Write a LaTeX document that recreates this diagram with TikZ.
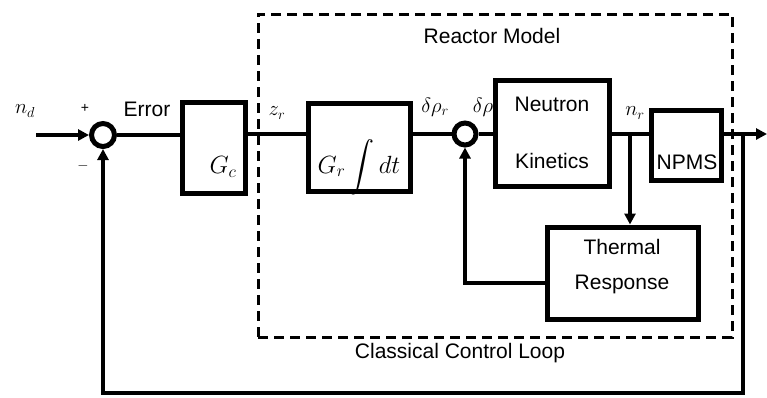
\documentclass[tikz,border=0pt]{standalone}
\usepackage{amsmath,amssymb}
\usepackage{fontspec}
\setmainfont{Liberation Sans}
\usepackage{tikz}
\usetikzlibrary{arrows.meta,positioning}
\tikzset{
  cbox/.style={draw=black, line width=5pt, align=center, inner sep=0pt, font=\fontsize{21}{26}\selectfont},
  csum/.style={draw=black, line width=5pt, circle, minimum size=23pt, inner sep=0pt},
  rmbox/.style={draw=black, line width=3pt, dash pattern=on 10pt off 6pt},
  carr/.style={-{Triangle[length=11pt,width=11pt]}, line width=4.6pt},
  cline/.style={line width=4.6pt},
  clab/.style={font=\fontsize{21}{26}\selectfont, inner sep=0pt},
  cmath/.style={font=\fontsize{25}{28}\selectfont, inner sep=0pt},
  csign/.style={font=\fontsize{14}{16}\selectfont, inner sep=0pt}
}

\begin{document}
\begin{tikzpicture}[x=1pt, y=-1pt]
\useasboundingbox (0,0) rectangle (767,397);
% reactor model frame
\node[rmbox, minimum width=474pt, minimum height=323pt] (rm) at (495,175.5) {};
\node[clab] (rml) at (492,36) {Reactor Model};
\node[clab] (ccl) at (460,353) {Classical Control Loop};
% blocks
\node[csum] (s1) at (103,135) {};
\node[cbox, minimum width=63pt, minimum height=91pt] (gc) at (213.5,147.5) {};
\node[cbox, minimum width=102pt, minimum height=88pt] (gr) at (359,147) {};
\node[csum, minimum size=22pt] (s2) at (465,134) {};
\node[cbox, minimum width=114pt, minimum height=106pt] (nk) at (552,133) {Neutron\\[31pt]Kinetics};
\node[cbox, minimum width=70pt, minimum height=70pt] (np) at (686,145) {};
\node[cbox, minimum width=151pt, minimum height=92pt] (tr) at (622.5,273) {};
\node[cmath] (gcl) at (223,167) {$G_c$};
\node[cmath] (grl) at (359,167) {$G_r\displaystyle\int dt$};
\node[clab] (npl) at (687,162) {NPMS};
\node[clab, align=center] (trl) at (622,267) {Thermal\\[9pt]Response};
% signal labels
\node[clab] (nd) at (25,111) {$n_d$};
\node[csign] (pl) at (85,108) {+};
\node[csign] (mi) at (83,166) {$-$};
\node[clab] (er) at (147,109) {Error};
\node[clab] (zr) at (277,113) {$z_r$};
\node[clab] (dr) at (435,107) {$\delta\rho_r$};
\node[clab] (dp) at (483,107) {$\delta\rho$};
\node[clab] (nr) at (635,113) {$n_r$};
% connectors
\coordinate (nin) at (36,135);
\coordinate (br) at (630,134);
\coordinate (fb) at (743,134);
\coordinate (nout) at (767,134);
\draw[carr] (nin) -- (s1); \draw[cline] (s1) -- (gc.west |- s1); \draw[cline] (gc.east |- s2) -- (gr.west |- s2);
\draw[cline] (gr.east |- s2) -- (s2); \draw[cline] (s2) -- (nk.west |- s2); \draw[cline] (nk.east |- s2) -- (np.west |- s2);
\draw[carr] (br) -- (br |- tr.north);
\draw[carr] ([yshift=-10pt]tr.west) -- (s2 |- 0,283) -- (s2);
\draw[carr] (np.east |- s2) -- (nout);
\draw[carr] (fb) -- (fb |- 0,393) -- (s1 |- 0,393) -- (s1);
\end{tikzpicture}
\end{document}
